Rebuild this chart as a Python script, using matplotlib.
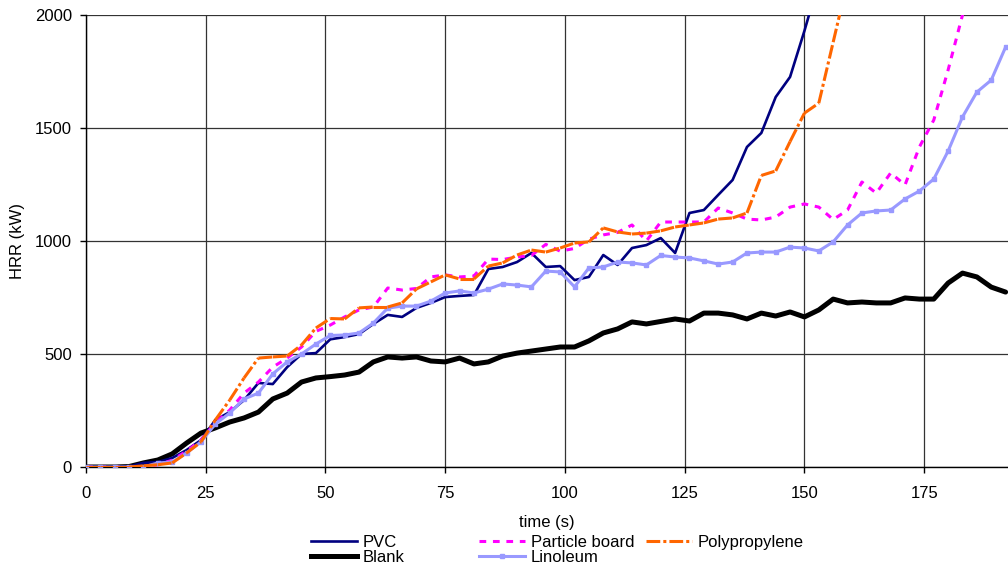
import numpy as np
import matplotlib
matplotlib.use('Agg')
import matplotlib.pyplot as plt
from matplotlib.collections import LineCollection
from matplotlib.lines import Line2D

plt.rcParams['font.family'] = ['Liberation Sans', 'DejaVu Sans']

# time axis, one reading every 3 s
t = np.arange(0, 193, 3)

pvc = [0, 0, 0, 2, 18, 22, 40, 75, 119, 208, 243, 296, 372, 367, 442, 500, 504,
       565, 575, 588, 633, 673, 664, 704, 726, 752, 757, 761, 876, 885, 907, 947,
       885, 889, 827, 841, 938, 894, 969, 982, 1013, 947, 1124, 1137, 1204, 1270,
       1416, 1478, 1637, 1726, 1930, 2150]

blank = [0, 0, 0, 2, 18, 31, 58, 106, 150, 173, 199, 217, 243, 301, 327, 376, 394,
         400, 407, 420, 465, 487, 482, 487, 469, 465, 482, 456, 465, 491, 504, 513,
         522, 531, 531, 558, 593, 611, 642, 633, 644, 655, 646, 681, 681, 673, 655,
         681, 668, 686, 664, 695, 743, 726, 730, 726, 726, 748, 743, 743, 814, 858,
         841, 796, 774]

particle = [0, 0, 0, 0, 2, 10, 30, 70, 119, 195, 252, 327, 376, 442, 482, 531, 600,
            628, 664, 695, 708, 792, 783, 790, 841, 850, 841, 845, 920, 918, 929, 936,
            985, 955, 967, 1008, 1027, 1038, 1071, 1000, 1084, 1084, 1084, 1084, 1146,
            1124, 1097, 1093, 1106, 1150, 1164, 1150, 1095, 1137, 1261, 1212, 1301,
            1248, 1416, 1535, 1757, 2000, 2250]

linoleum = [0, 0, 0, 0, 0, 18, 22, 62, 111, 190, 239, 301, 327, 412, 465, 500, 544,
            582, 584, 593, 637, 703, 712, 712, 734, 770, 779, 770, 787, 810, 805, 797,
            867, 863, 797, 881, 885, 907, 903, 894, 936, 929, 925, 912, 898, 907, 947,
            951, 951, 973, 969, 956, 996, 1071, 1124, 1133, 1137, 1186, 1221, 1274,
            1398, 1549, 1659, 1712, 1858]

polyprop = [0, 0, 0, 0, 5, 10, 18, 62, 111, 208, 296, 394, 482, 487, 491, 540, 615,
            657, 655, 704, 708, 708, 726, 788, 819, 850, 832, 832, 889, 903, 938, 960,
            951, 969, 991, 996, 1058, 1040, 1031, 1035, 1045, 1062, 1071, 1080, 1097,
            1102, 1124, 1290, 1310, 1440, 1566, 1610, 1880, 2150]

NAVY = '#000080'
MAGENTA = '#FF00FF'
ORANGE = '#FF6600'
LILAC = '#9999FF'
PP_DASH = (0, (4.5, 1.0, 1.0, 1.0))

fig = plt.figure(figsize=(10.08, 5.68), dpi=100)
ax = fig.add_axes([86 / 1008, 1 - 467 / 568, 1 - 86 / 1008, (467 - 15) / 568])

ax.plot(t[:len(blank)], blank, color='black', lw=3.6, solid_capstyle='round',
        solid_joinstyle='round', zorder=3)
ax.plot(t[:len(pvc)], pvc, color=NAVY, lw=1.9, solid_joinstyle='round', zorder=4)
ax.plot(t[:len(particle)], particle, color=MAGENTA, lw=2.2, dashes=(2.2, 2.2), zorder=5)
ax.plot(t[:len(linoleum)], linoleum, color=LILAC, lw=2.2, marker='s', ms=3.5,
        mec=LILAC, solid_joinstyle='round', zorder=6)

# orange line: dash pattern restarts at every data point
pts = np.column_stack([t[:len(polyprop)], polyprop])
segs = np.stack([pts[:-1], pts[1:]], axis=1)
ax.add_collection(LineCollection(segs, colors=ORANGE, linewidths=2.2,
                                 linestyles=[PP_DASH], zorder=7))

ax.set_xlim(0, 192.5)
ax.set_ylim(0, 2000)
ax.set_xticks(np.arange(0, 176, 25))
ax.set_yticks(np.arange(0, 2001, 500))
ax.grid(True, color='#333333', lw=0.9)
ax.set_axisbelow(True)
for s in ('top', 'right'):
    ax.spines[s].set_visible(False)
for s in ('left', 'bottom'):
    ax.spines[s].set_color('black')
    ax.spines[s].set_linewidth(1.0)
ax.tick_params(axis='y', direction='out', length=4, width=1, pad=6, labelsize=12)
ax.tick_params(axis='x', direction='out', length=4, width=1, pad=10, labelsize=12)

fig.text(18 / 1008, 1 - 241 / 568, 'HRR (kW)', rotation=90, ha='center', va='center',
         fontsize=12)
fig.text(547 / 1008, 1 - 522 / 568, 'time (s)', ha='center', va='center', fontsize=12)

h_pvc = Line2D([], [], color=NAVY, lw=1.9)
h_blank = Line2D([], [], color='black', lw=3.6)
h_part = Line2D([], [], color=MAGENTA, lw=2.2, dashes=(2.2, 2.2))
h_lino = Line2D([], [], color=LILAC, lw=2.2, marker='s', ms=3.5, markevery=[1])
h_pp = Line2D([], [], color=ORANGE, lw=2.2, linestyle=PP_DASH)

cols = [([h_pvc, h_blank], ['PVC', 'Blank'], 311),
        ([h_part, h_lino], ['Particle board', 'Linoleum'], 479),
        ([h_pp], ['Polypropylene'], 646)]
for handles, labels, xpx in cols:
    fig.legend(handles, labels, loc='upper left',
               bbox_to_anchor=(xpx / 1008, 1 - 535 / 568),
               frameon=False, fontsize=12, borderpad=0, borderaxespad=0,
               handlelength=2.75, handletextpad=0.35, labelspacing=-0.02)

fig.savefig('out.png', dpi=100)
